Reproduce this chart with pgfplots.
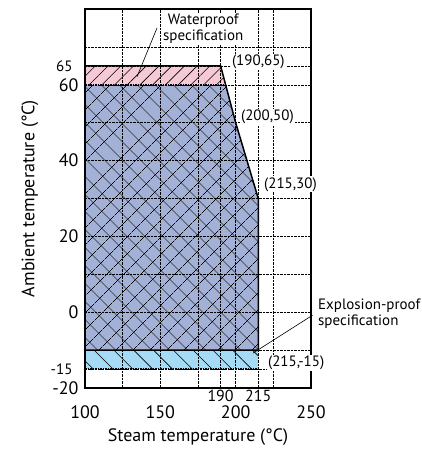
\documentclass[border=0pt]{standalone}
\usepackage{fontspec}
\setmainfont{PT Sans}
\usepackage{pgfplots}
\pgfplotsset{compat=1.18}
\usetikzlibrary{patterns.meta}
\definecolor{wpink}{RGB}{245,202,214}
\definecolor{wblue}{RGB}{162,177,213}
\definecolor{elblue}{RGB}{166,219,245}
\newcommand{\annfont}{\fontsize{15}{16}\selectfont}
\newcommand{\smallt}{\fontsize{15}{16}\selectfont}
\newcommand{\smallx}{\fontsize{16}{17}\selectfont}
\begin{document}
\begin{tikzpicture}
\begin{axis}[
  set layers=axis on top,
  scale only axis, width=226pt, height=379pt,
  xmin=100, xmax=250, ymin=-20, ymax=80,
  clip=false, axis on top,
  axis line style={line width=1.5pt},
  major tick length=0pt, minor tick length=0pt,
  xtick={100,150,200,250}, minor xtick={125,175,225},
  ytick={-20,0,20,40,60}, minor ytick={-10,10,30,50,70},
  yticklabels={-20,0,20,40,60},
  grid=both,
  major grid style={densely dotted, black, line width=0.5pt},
  minor grid style={densely dotted, black, line width=0.5pt},
  /pgf/number format/assume math mode=true,
  xticklabel style={font=\fontsize{18}{20}\selectfont, yshift=-14pt},
  yticklabel style={font=\fontsize{18}{20}\selectfont, xshift=-3pt},
  extra x ticks={190,215}, extra x tick labels={{\smallx 190},{\smallx 215}},
  extra x tick style={grid=major, xticklabel style={yshift=15pt}},
  extra y ticks={65,-15}, extra y tick labels={{\smallt 65},{\smallt -15}},
  extra y tick style={grid=major, yticklabel style={xshift=-6pt}},
  xlabel={Steam temperature (°C)},
  ylabel={Ambient temperature (°C)},
  xlabel style={font=\fontsize{18}{20}\selectfont, at={(axis description cs:0.5,0)}, anchor=center, yshift=-49pt},
  ylabel style={font=\fontsize{18}{20}\selectfont, at={(axis description cs:0,0.5)}, anchor=center, yshift=55pt},
]
% explosion-proof region
\addplot[draw=none, fill=elblue, postaction={pattern={Lines[angle=-45,distance=14pt,line width=0.6pt]}}]
  coordinates {(100,-15) (215,-15) (215,-10) (100,-10)} -- cycle;
% main region
\addplot[draw=none, fill=wblue, postaction={pattern={Hatch[angle=45,distance=13pt,line width=0.6pt]}}]
  coordinates {(100,-10) (100,60) (193.33,60) (200,50) (215,30) (215,-10)} -- cycle;
% waterproof region
\addplot[draw=none, fill=wpink, postaction={pattern={Lines[angle=45,distance=9pt,line width=0.6pt]}}]
  coordinates {(100,60) (100,65) (190,65) (193.33,60)} -- cycle;
% borders
\addplot[densely dotted, black, line width=1.5pt] coordinates {(100,60) (193.33,60)};
\addplot[densely dotted, black, line width=1.5pt] coordinates {(100,-15) (215,-15)};
\begin{pgfonlayer}{axis foreground}
\addplot[black, line width=1.5pt] coordinates {(100,65) (190,65) (200,50) (215,30) (215,-10) (100,-10)};
% annotations
\node[font=\annfont, align=center, fill=white, inner sep=1pt] at (axis cs:178.5,74.7) {Waterproof\\specification};
\draw[black, line width=0.6pt] (axis cs:147.8,75) -- (axis cs:134.5,62.1);
\node[font=\annfont, anchor=west, inner sep=1pt, fill=white] at (axis cs:196.8,66) {(190,65)};
\node[font=\annfont, anchor=west, inner sep=1pt, fill=white] at (axis cs:202.8,51.6) {(200,50)};
\node[font=\annfont, anchor=west, inner sep=1pt, fill=white] at (axis cs:218.1,33.7) {(215,30)};
\node[font=\annfont, anchor=west, inner sep=1pt, fill=white] at (axis cs:220.7,-13.4) {(215,-15)};
\node[font=\annfont, anchor=west, align=left, inner sep=0pt] at (axis cs:254.6,-0.3) {Explosion-proof\\specification};
\draw[black, line width=0.6pt] (axis cs:251,-0.8) -- (axis cs:211.5,-10.8);
\end{pgfonlayer}
\end{axis}
\pgfresetboundingbox
\path (current axis.south west) ++(-85pt,-66pt) rectangle ([shift={(110pt,9pt)}]current axis.north east);
\end{tikzpicture}
\end{document}
